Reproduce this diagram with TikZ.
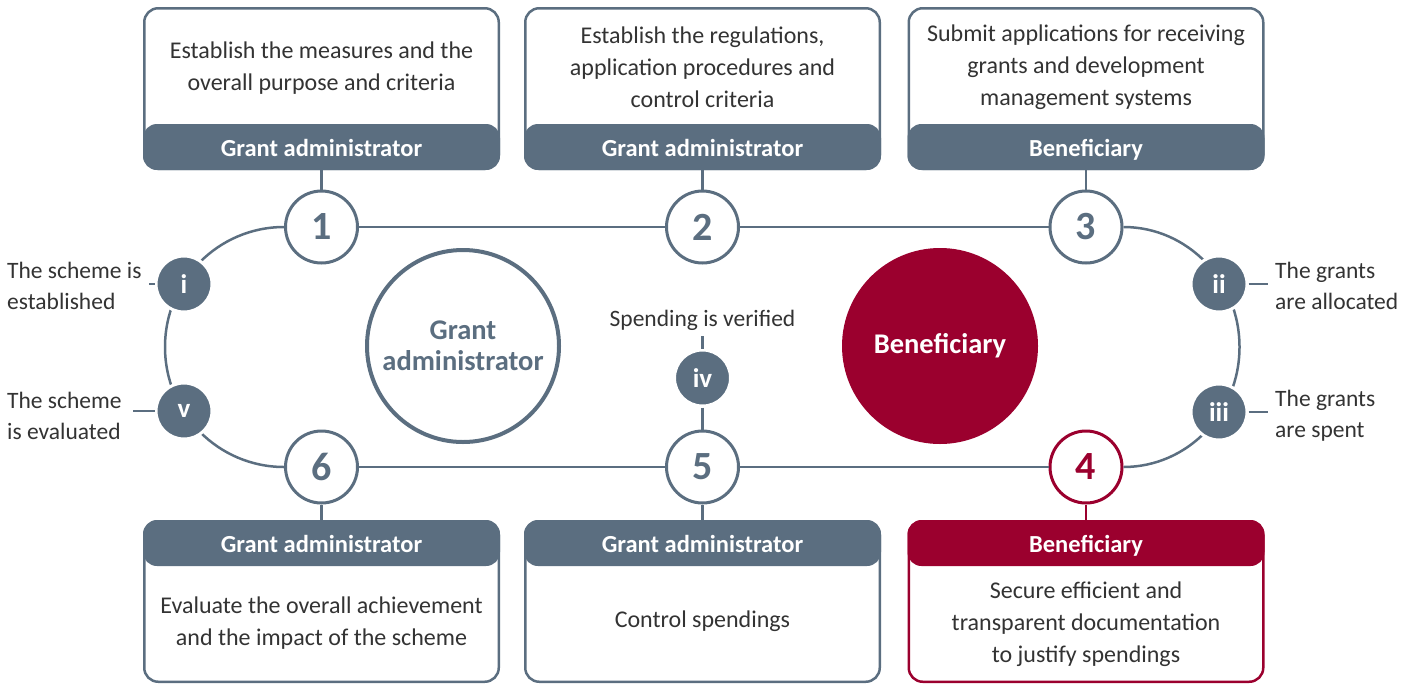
\documentclass[tikz,border=0pt]{standalone}
\usepackage{fontspec}
\setmainfont{Carlito}
\usetikzlibrary{calc}
\definecolor{slate}{RGB}{91,110,128}
\definecolor{wine}{RGB}{155,0,46}
\definecolor{ink}{RGB}{51,51,51}
\def\fsz#1#2{\fontsize{#1}{#2}\selectfont}
\tikzset{
	card/.style={draw=slate, line width=2.5pt, rounded corners=14pt, fill=white, minimum width=354.5pt, minimum height=160.5pt, inner sep=0pt},
	cardhead/.style={fill=slate, rounded corners=14pt, minimum width=357pt, minimum height=46pt, inner sep=0pt, outer sep=0pt, text height=20pt, text depth=2pt, text=white, font=\bfseries\fsz{24.5}{28}},
	cardtext/.style={text=ink, align=center, font=\fsz{24}{32}},
	num/.style={circle, draw=slate, line width=3pt, fill=white, minimum size=72pt, inner sep=0pt, text=slate, font=\bfseries\fsz{40}{40}},
	stage/.style={circle, fill=slate, draw=white, line width=3pt, minimum size=56pt, inner sep=0pt, text=white, font=\bfseries\fsz{27}{27}},
	side/.style={text=ink, align=left, font=\fsz{23.5}{31}, inner sep=0pt},
	link/.style={draw=slate, line width=2.5pt},
}
\begin{document}
\begin{tikzpicture}[x=1pt, y=-1pt]
	%%%%% START %%%%%
	\useasboundingbox (0,0) rectangle (1418,683);

	% top cards
	\node[card] (c1) at (321.5,88.5) {};
	\node[cardhead, anchor=south] (h1) at (c1.south) {Grant administrator};
	\node[cardtext] (t1) at (321.5,68) {Establish the measures and the\\overall purpose and criteria};

	\node[card] (c2) at (702.5,88.5) {};
	\node[cardhead, anchor=south] (h2) at (c2.south) {Grant administrator};
	\node[cardtext] (t2) at (702.5,67) {Establish the regulations,\\application procedures and\\control criteria};

	\node[card] (c3) at (1086,88.5) {};
	\node[cardhead, anchor=south] (h3) at (c3.south) {Beneficiary};
	\node[cardtext] (t3) at (1086,67) {Submit applications for receiving\\grants and development\\management systems};

	% bottom cards
	\node[card] (c6) at (321.5,601.5) {};
	\node[cardhead, anchor=north] (h6) at (c6.north) {Grant administrator};
	\node[cardtext] (t6) at (321.5,623) {Evaluate the overall achievement\\and the impact of the scheme};

	\node[card] (c5) at (702.5,601.5) {};
	\node[cardhead, anchor=north] (h5) at (c5.north) {Grant administrator};
	\node[cardtext] (t5) at (702.5,621) {Control spendings};

	\node[card, draw=wine] (c4) at (1086,601.5) {};
	\node[cardhead, fill=wine, anchor=north] (h4) at (c4.north) {Beneficiary};
	\node[cardtext] (t4) at (1086,624) {Secure efficient and\\transparent documentation\\to justify spendings};

	% numbered steps
	\node[num] (n1) at (321.5,227) {1};
	\node[num] (n2) at (702.5,227) {2};
	\node[num] (n3) at (1086,227) {3};
	\node[num] (n6) at (321.5,467) {6};
	\node[num] (n5) at (702.5,467) {5};
	\node[num, draw=wine, text=wine] (n4) at (1086,467) {4};

	\draw[link] (c1.south) -- (n1.north);
	\draw[link] (c2.south) -- (n2.north);
	\draw[link] (c3.south) -- (n3.north);
	\draw[link] (c6.north) -- (n6.south);
	\draw[link] (c5.north) -- (n5.south);
	\draw[link, draw=wine] (c4.north) -- (n4.south);

	\draw[link] (n1.east) -- (n2.west) (n2.east) -- (n3.west);
	\draw[link] (n6.east) -- (n5.west) (n5.east) -- (n4.west);
	\draw[link] (n1.west) arc[start angle=270, end angle=90, x radius=119, y radius=120];
	\draw[link] (n3.east) arc[start angle=-90, end angle=90, x radius=116, y radius=120];

	% big circles
	\node[circle, draw=slate, line width=4pt, minimum size=192pt, align=center, text=slate, font=\bfseries\fsz{28.5}{31}] (ga) at (463,346) {Grant\\administrator};
	\node[circle, fill=wine, minimum size=196pt, text=white, font=\bfseries\fsz{28.5}{31}] (bf) at (940,346) {Beneficiary};

	% stages
	\node[stage] (si) at (184,284) {i};
	\node[stage] (sv) at (184,411) {v};
	\node[stage] (sii) at (1219,284) {ii};
	\node[stage] (siii) at (1219,412) {iii};
	\node[stage] (siv) at (702.5,378) {iv};

	\node[side, anchor=west] (li) at (7,286) {The scheme is\\established};
	\node[side, anchor=west] (lv) at (7,416) {The scheme\\is evaluated};
	\node[side, anchor=west] (lii) at (1275,286) {The grants\\are allocated};
	\node[side, anchor=west] (liii) at (1275,416) {The grants\\are spent};
	\node[text=ink, font=\fsz{23.5}{31}] (liv) at (702.5,320) {Spending is verified};

	\draw[link, shorten >=7pt] (si.west) -- (si.west -| li.east);
	\draw[link, shorten >=11pt] (sv.west) -- (sv.west -| lv.east);
	\draw[link, shorten >=7pt] (sii.east) -- (sii.east -| lii.west);
	\draw[link, shorten >=7pt] (siii.east) -- (siii.east -| liii.west);
	\draw[link, shorten >=2pt] (siv.north) -- (liv.south);
	\draw[link] (siv.south) -- (n5.north);

	%%%%% END %%%%%
\end{tikzpicture}
\end{document}
